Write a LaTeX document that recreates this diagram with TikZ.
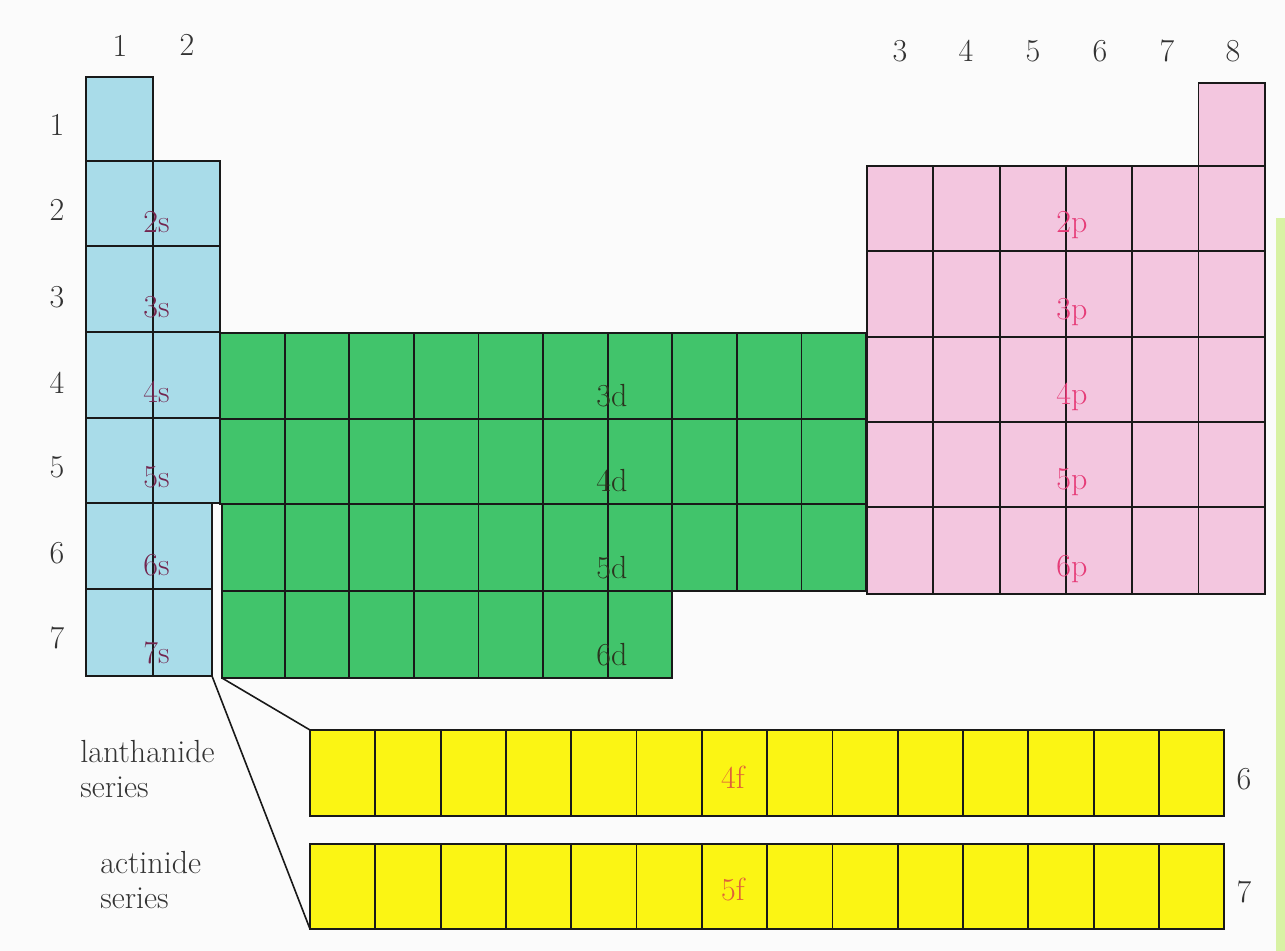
\documentclass[tikz,border=0pt]{standalone}
\usepackage{tikz}
\usetikzlibrary{positioning}
\definecolor{paper}{HTML}{FBFBFB}
\definecolor{sblue}{HTML}{A9DCE9}
\definecolor{dgreen}{HTML}{41C46B}
\definecolor{ppink}{HTML}{F3C6DF}
\definecolor{fyellow}{HTML}{FBF514}
\definecolor{slabel}{HTML}{73264F}
\definecolor{dlabel}{HTML}{2A341E}
\definecolor{plabel}{HTML}{E63C78}
\definecolor{flabel}{HTML}{E0603A}
\definecolor{stripe}{HTML}{D8F2A4}
\tikzset{
  cell/.style       = {draw=black!90, line width=0.9pt},
  scell/.style      = {cell, fill=sblue},
  dcell/.style      = {cell, fill=dgreen},
  pcell/.style      = {cell, fill=ppink},
  fcell/.style      = {cell, fill=fyellow},
  link/.style       = {draw=black!90, line width=0.8pt},
  every node/.style = {font=\fontsize{16}{19}\selectfont},
  num/.style        = {text=black!80, inner sep=0pt},
  orb/.style        = {inner sep=0pt, anchor=base west, xshift=-0.5em},
  series/.style     = {text=black!80, inner sep=0pt, anchor=base west},
}

\begin{document}
\begin{tikzpicture}[x=0.5pt, y=-0.5pt]
  \useasboundingbox[fill=paper] (0,0) rectangle (1285,951);
  \fill[stripe] (1276,218) rectangle (1285,951);
  % s block
  \draw[scell] (86,77) rectangle (153,161);
  \foreach \ya/\yb in {161/246,246/332,332/418,418/503} {
    \draw[scell] (86,\ya) rectangle (153,\yb);
    \draw[scell] (153,\ya) rectangle (220,\yb);
  }
  \foreach \ya/\yb in {503/589,589/676} {
    \draw[scell] (86,\ya) rectangle (153,\yb);
    \draw[scell] (153,\ya) rectangle (212,\yb);
  }
  % d block
  \foreach \ya/\yb in {333/419,419/504}
    \foreach \i in {0,...,9}
      \draw[dcell] ({220+64.6*\i},\ya) rectangle ({220+64.6*(\i+1)},\yb);
  \foreach \ya/\yb/\n in {504/591/9,591/678/6} {
    \draw[dcell] (222,\ya) rectangle (284.6,\yb);
    \foreach \i in {1,...,\n}
      \draw[dcell] ({220+64.6*\i},\ya) rectangle ({220+64.6*(\i+1)},\yb);
  }
  % p block
  \draw[pcell] (1198.5,83) rectangle (1265,166);
  \foreach \ya/\yb in {166/251,251/337,337/422,422/507,507/594}
    \foreach \i in {0,...,5}
      \draw[pcell] ({867+66.3*\i},\ya) rectangle ({867+66.3*(\i+1)},\yb);
  % f series
  \foreach \ya/\yb in {730/816,844/929}
    \foreach \i in {0,...,13}
      \draw[fcell] ({310+65.3*\i},\ya) rectangle ({310+65.3*(\i+1)},\yb);

  % ends of the two links
  \coordinate (sgap) at (212,676);
  \coordinate (dgap) at (222,678);
  \coordinate (lan) at (310,730);
  \coordinate (act) at (310,929);
  \draw[link] (dgap) -- (lan);
  \draw[link] (sgap) -- (act);

  % group and period numbers
  \node[num] (g1) at (120,46) {1};
  \node[num] (g2) at (187,45) {2};
  \foreach \g/\x in {3/900,4/966,5/1033,6/1100,7/1167,8/1233}
    \node[num] (g\g) at (\x,51) {\g};
  \foreach \r/\y in {1/125,2/210,3/297,4/383,5/467,6/553,7/638}
    \node[num] (r\r) at (57,\y) {\r};
  \node[num] (r6f) at (1244,779) {6};
  \node[num] (r7f) at (1244,892) {7};

  % orbital labels
  \foreach \k/\y in {2/233,3/318,4/403,5/488,6/576,7/663}
    \node[orb, text=slabel] (s\k) at (153,\y) {\k s};
  \foreach \k/\y in {3/407,4/492,5/579,6/666}
    \node[orb, text=dlabel] (d\k) at (606,\y) {\k d};
  \foreach \k/\y in {2/233,3/320,4/405,5/490,6/577}
    \node[orb, text=plabel] (p\k) at (1066,\y) {\k p};
  \node[inner sep=0pt, anchor=base, text=flabel] (f4) at (733,788) {4f};
  \node[inner sep=0pt, anchor=base, text=flabel] (f5) at (733,900) {5f};

  % series names
  \node[series] (lan1) at (80,762) {lanthanide};
  \node[series] (lan2) at (80,797) {series};
  \node[series] (act1) at (100,873) {actinide};
  \node[series] (act2) at (100,908) {series};
\end{tikzpicture}
\end{document}
